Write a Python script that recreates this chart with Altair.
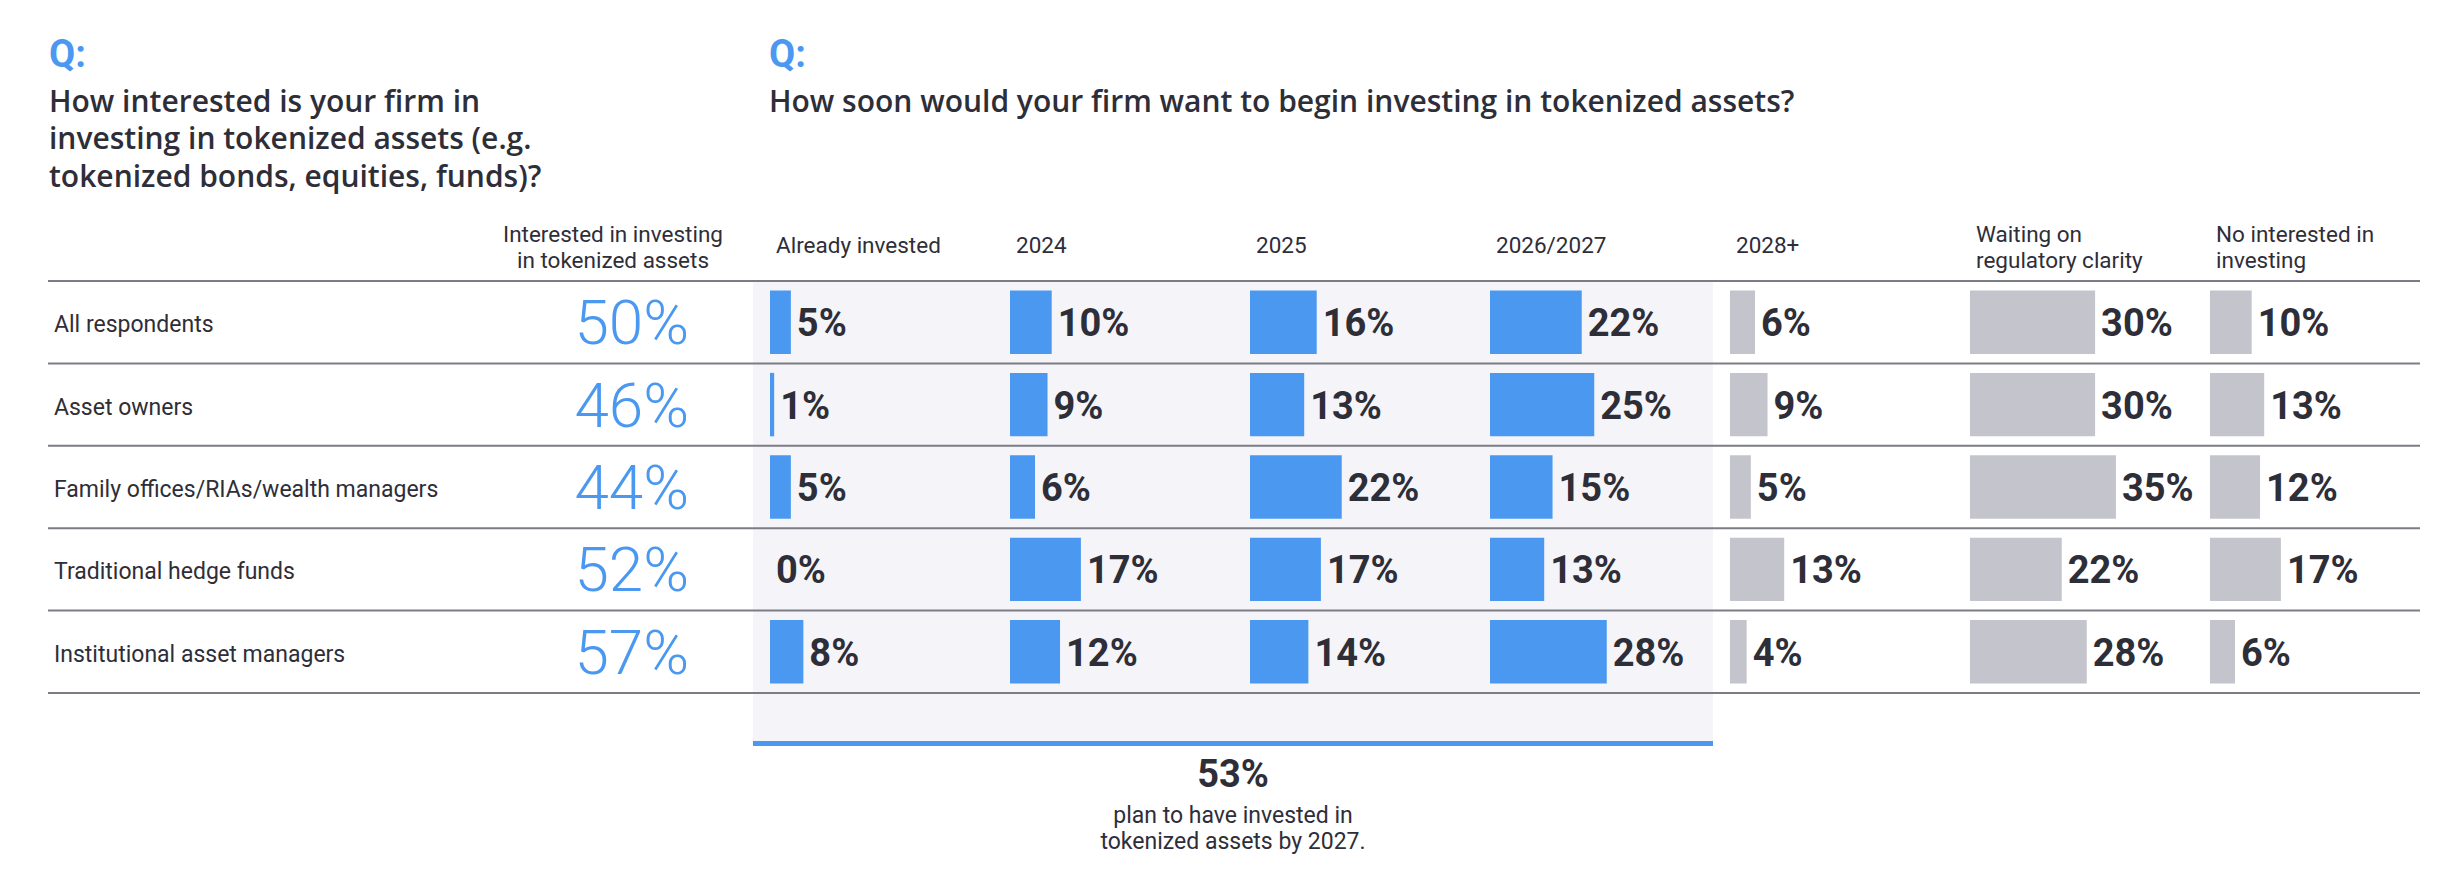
import altair as alt
import pandas as pd

# ---------------- data ----------------
groups = [
    "All respondents",
    "Asset owners",
    "Family offices/RIAs/wealth managers",
    "Traditional hedge funds",
    "Institutional asset managers",
]
interested = [50, 46, 44, 52, 57]
already_invested = [5, 1, 5, 0, 8]
in_2024 = [10, 9, 6, 17, 12]
in_2025 = [16, 13, 22, 17, 14]
in_2026_2027 = [22, 25, 15, 13, 28]
in_2028_plus = [6, 9, 5, 13, 4]
waiting_regulatory = [30, 30, 35, 22, 28]
not_interested = [10, 13, 12, 17, 6]

column_headers = [
    ["Already invested"],
    ["2024"],
    ["2025"],
    ["2026/2027"],
    ["2028+"],
    ["Waiting on", "regulatory clarity"],
    ["No interested in", "investing"],
]
column_series = [already_invested, in_2024, in_2025, in_2026_2027,
                 in_2028_plus, waiting_regulatory, not_interested]

left_question = ["How interested is your firm in",
                 "investing in tokenized assets (e.g.",
                 "tokenized bonds, equities, funds)?"]
right_question = "How soon would your firm want to begin investing in tokenized assets?"
interest_header = ["Interested in investing", "in tokenized assets"]
summary_value = "53%"
summary_text = ["plan to have invested in", "tokenized assets by 2027."]

# ---------------- style ----------------
FONT = "Roboto"
TITLE_FONT = "Open Sans"
BLUE = "#4a98f0"
GRAY = "#c4c4cc"
SHADE = "#f5f5f9"
DARK = "#2e2e38"
LINE = "#7c7c86"

ROW_H = 82.4
BODY_H = ROW_H * 5
LEFT_W = 705
COL_W = 240
LAST_W = 227
PX_PER_PCT = 4.17
BAR_OFF = 17
SHADE_BOTTOM = 460

column_colors = [BLUE, BLUE, BLUE, BLUE, GRAY, GRAY, GRAY]

one = pd.DataFrame({"k": [0]})
rows_df = pd.DataFrame({"group": groups})


def y_enc(band_position=None):
    kw = dict(sort=groups,
              scale=alt.Scale(domain=groups, paddingInner=0, paddingOuter=0),
              axis=None, title=None)
    if band_position is not None:
        kw["bandPosition"] = band_position
    return alt.Y("group:N", **kw)


def txt(text, x, y, size, weight="normal", color=DARK, align="left", lh=None, font=FONT):
    props = dict(align=align, baseline="alphabetic", font=font, fontSize=size,
                 fontWeight=weight, color=color, x=x, y=y)
    if lh:
        props["lineHeight"] = lh
    return alt.Chart(one).mark_text(**props).encode(text=alt.value(text))


def row_rules():
    top = alt.Chart(rows_df).mark_rule(color=LINE, strokeWidth=2).encode(y=y_enc(0))
    bottom = alt.Chart(rows_df.tail(1)).mark_rule(color=LINE, strokeWidth=2).encode(y=y_enc(1))
    return [top, bottom]


# ---------------- left panel ----------------
left_df = pd.DataFrame({"group": groups, "interested": [f"{v}%" for v in interested]})
left_layers = row_rules() + [
    alt.Chart(left_df).mark_text(align="left", baseline="middle", font=FONT, fontSize=23,
                                 color=DARK, dy=3).encode(
        x=alt.value(6), y=y_enc(), text="group:N"),
    alt.Chart(left_df).mark_text(align="right", baseline="middle", font=FONT, fontSize=62,
                                 fontWeight=300, color=BLUE, dy=3).encode(
        x=alt.value(641), y=y_enc(), text="interested:N"),
    txt("Q:", 1, -214, 38, weight="bold", color=BLUE),
    txt(left_question, 1, -169.5, 30, weight=600, lh=37.5, font=TITLE_FONT),
    txt(interest_header, 565, -39, 22.5, align="center", lh=26),
]
left_panel = alt.layer(*left_layers).properties(width=LEFT_W, height=BODY_H)

# ---------------- bar panels ----------------
panels = [left_panel]
for i, (values, header, color) in enumerate(zip(column_series, column_headers, column_colors)):
    w = LAST_W if i == len(column_series) - 1 else COL_W
    df = pd.DataFrame({"group": groups, "value": values, "label": [f"{v}%" for v in values]})
    xs = alt.Scale(domain=[-BAR_OFF / PX_PER_PCT, (w - BAR_OFF) / PX_PER_PCT], nice=False, zero=False)
    layers = []
    if i < 4:
        layers.append(alt.Chart(one).mark_rect(color=SHADE).encode(
            x=alt.value(0), x2=alt.value(w), y=alt.value(0), y2=alt.value(SHADE_BOTTOM)))
        layers.append(alt.Chart(one).mark_rule(color=BLUE, strokeWidth=5).encode(
            y=alt.value(SHADE_BOTTOM + 2.5)))
    layers += row_rules()
    layers.append(alt.Chart(df).mark_bar(color=color, height={"band": 0.77}).encode(
        x=alt.X("value:Q", scale=xs, axis=None, title=None), y=y_enc()))
    layers.append(alt.Chart(df).mark_text(align="left", baseline="middle", dx=6, dy=3, font=FONT,
                                          fontSize=38, fontWeight="bold", color=DARK).encode(
        x=alt.X("value:Q", scale=xs, axis=None, title=None), y=y_enc(), text="label:N"))
    if len(header) == 1:
        layers.append(txt(header[0], 23, -28, 22.5))
    else:
        layers.append(txt(header, 23, -39, 22.5, lh=26))
    if i == 0:
        layers.append(txt("Q:", 16, -214, 38, weight="bold", color=BLUE))
        layers.append(txt(right_question, 16, -169.5, 30, weight=600, font=TITLE_FONT))
    if i == 2:
        layers.append(txt(summary_value, 0, 506, 38, weight="bold", align="center"))
        layers.append(txt(summary_text, 0, 541.5, 23, align="center", lh=26))
    panels.append(alt.layer(*layers).properties(width=w, height=BODY_H))

chart = alt.hconcat(*panels, spacing=0, bounds="flush").properties(
    padding={"left": 39, "top": 29, "right": 10, "bottom": 10},
    background="white",
).configure_view(stroke=None)

chart.save("out.html", embed_options={"renderer": "svg", "actions": False})
